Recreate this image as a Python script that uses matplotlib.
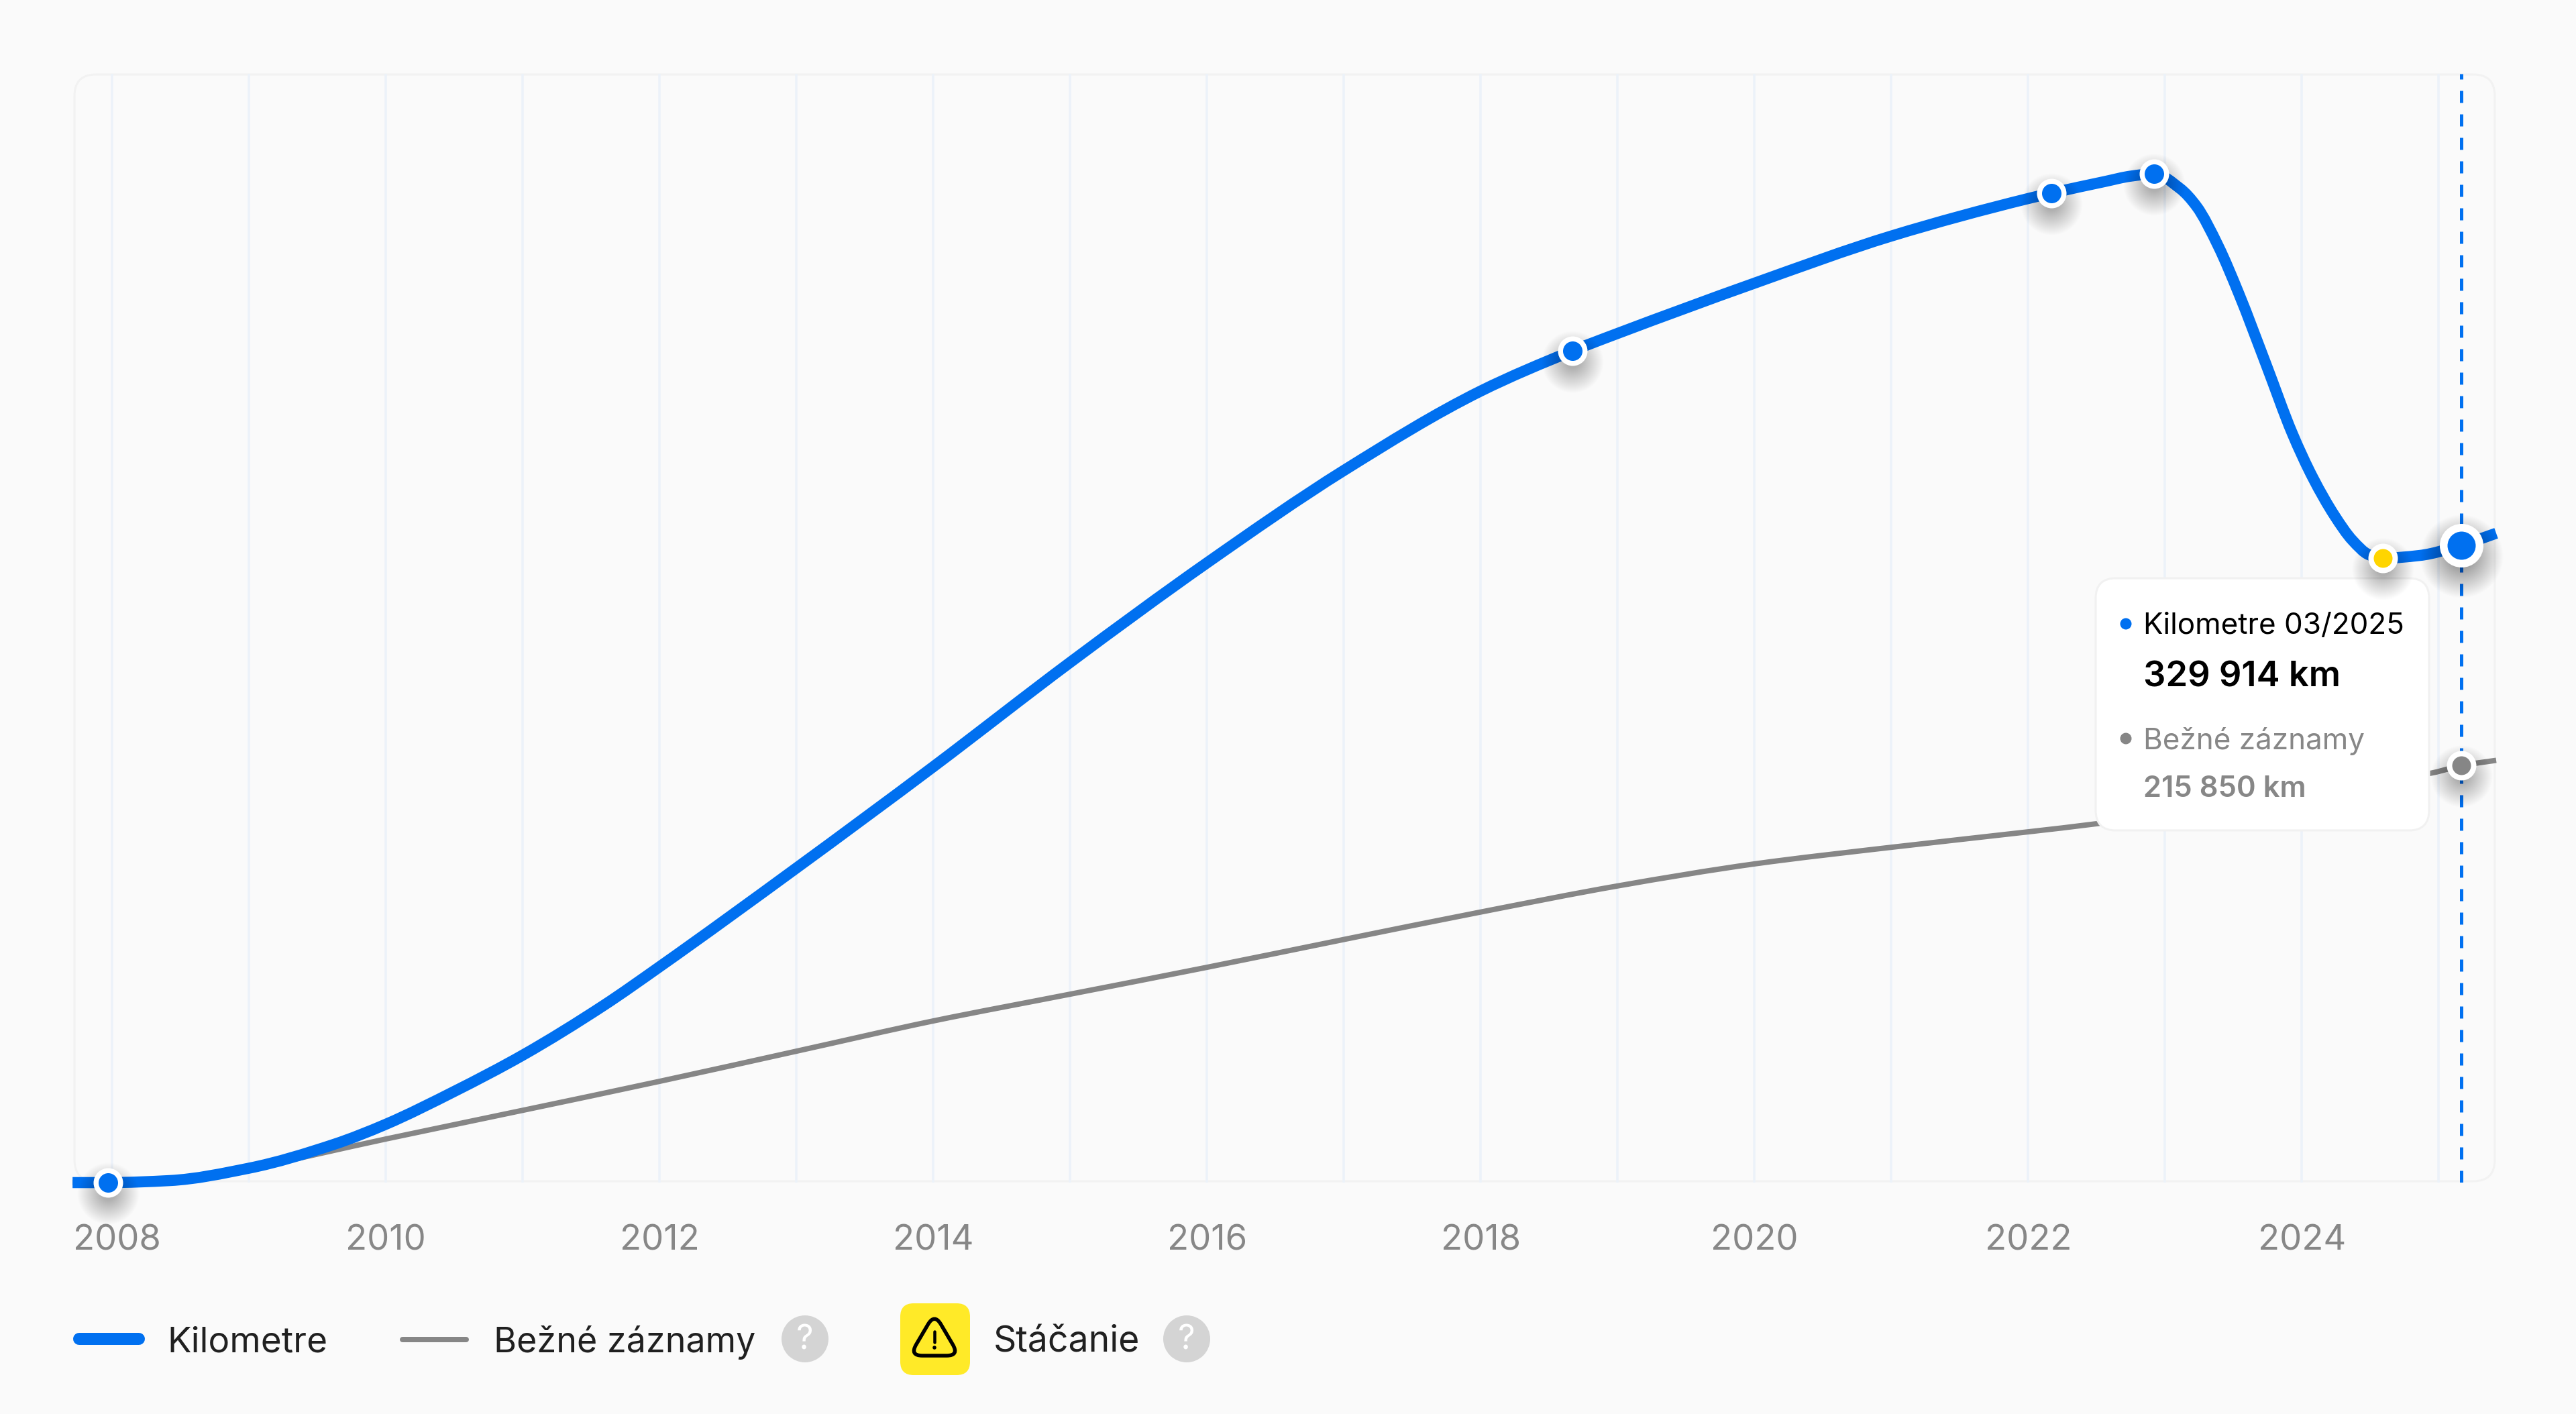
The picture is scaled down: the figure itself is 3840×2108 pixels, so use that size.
import matplotlib
matplotlib.use("Agg")
import matplotlib.pyplot as plt
from matplotlib.lines import Line2D
from matplotlib.patches import FancyBboxPatch, Circle, PathPatch
from matplotlib.path import Path
from matplotlib.transforms import Affine2D, ScaledTranslation

# ---------- data ----------
km_years = [2007.71, 2007.97, 2008.42, 2009.00, 2009.62, 2010.00, 2010.50, 2011.00, 2011.59, 2012.00,
            2013.00, 2014.00, 2015.00, 2016.00, 2017.00, 2018.00, 2018.67, 2019.00, 2020.00, 2021.00,
            2022.00, 2022.17, 2022.56, 2022.75, 2022.92, 2023.11, 2023.23, 2023.39, 2023.54, 2023.74,
            2023.93, 2024.08, 2024.24, 2024.37, 2024.49, 2024.59, 2024.86, 2025.17, 2025.42]
km_values = [0, 0, 1040, 7460, 19780, 30200, 47200, 65950, 91630, 111700,
             162800, 215200, 269200, 320700, 368500, 409600, 430400, 439400, 465400, 489800,
             509200, 512000, 518000, 520800, 522000, 514400, 505200, 484500, 459900, 423100,
             387700, 364800, 345000, 332300, 324900, 323100, 324500, 329914, 336000]

rec_years = [2007.71, 2008.00, 2008.42, 2009.00, 2010.00, 2011.00, 2012.00, 2013.00, 2014.00, 2015.00,
             2016.00, 2017.00, 2018.00, 2019.00, 2020.00, 2021.00, 2022.00, 2022.50, 2024.96, 2025.17,
             2025.42]
rec_values = [0, 0, 1040, 7460, 22560, 37400, 52400, 68000, 83650, 97500,
              111400, 125800, 140000, 153500, 164900, 173500, 181500, 185700, 212100, 215850,
              218500]

record_years = [2007.97, 2018.67, 2022.17, 2022.92]
record_km = [0, 430400, 512000, 522000]
rollback_year = [2024.59]
rollback_km = [323100]
current_year = 2025.167
current_km = 329914
current_rec = 215850

grid_years = list(range(2008, 2026))
tick_labels = [str(y) if y % 2 == 0 else "" for y in grid_years]

tooltip_lines = ["Kilometre 03/2025", "329 914 km", "Bežné záznamy", "215 850 km"]
legend_labels = ["Kilometre", "Bežné záznamy", "Stáčanie"]

# ---------- styles ----------
BG = "#FAFAFA"
BLUE = "#0070F0"
GRAY = "#868686"
TXT = "#202020"
GRID = "#ECF2F9"
BORDER = "#F2F2F2"
plt.rcParams["font.family"] = ["Inter", "DejaVu Sans"]

W, H = 3840, 2108
PX = 0.72  # points per pixel at dpi 100
fig = plt.figure(figsize=(W / 100, H / 100), dpi=100, facecolor=BG)
L, R, T, B = 110, 3720, 110, 1763
ax = fig.add_axes([L / W, (H - B) / H, (R - L) / W, (B - T) / H])
ax.set_facecolor("none")
ax.set_xlim(2007.719, 2025.415)
ax.set_ylim(0, 573756)
for s in ax.spines.values():
    s.set_visible(False)
ax.set_yticks([])

# pixel coordinates, origin at top-left
px = Affine2D().scale(1, -1).translate(0, H)

# plot frame (drawn before the axes, so the curves stay on top)
frame = FancyBboxPatch((L + 1, T + 1), R - L - 2, B - T - 3, boxstyle="round,pad=0,rounding_size=32",
                       fc="none", ec=BORDER, lw=3 * PX, transform=px, zorder=-1, clip_on=False)
fig.add_artist(frame)

# grid & ticks
ax.set_xticks(grid_years)
ax.set_xticklabels(tick_labels)
ax.tick_params(axis="x", length=0, pad=101 * PX, labelsize=52.5 * PX, labelcolor="#878787")
for lab in ax.get_xticklabels():
    lab.set_va("baseline")
first = ax.get_xticklabels()[0]
first.set_ha("left")
first.set_transform(first.get_transform() + ScaledTranslation(-58 / 100, 0, fig.dpi_scale_trans))
ax.xaxis.grid(True, color=GRID, lw=3.5 * PX, zorder=1)
ax.set_axisbelow(True)


def smooth_path(xs, ys):
    """Monotone cubic Bezier path through the given values (the chart's curve style)."""
    n = len(xs)
    sl = [(ys[i + 1] - ys[i]) / (xs[i + 1] - xs[i]) for i in range(n - 1)]
    m = [sl[0]] + [0.0] * (n - 2) + [sl[-1]]
    for i in range(1, n - 1):
        a, b = sl[i - 1], sl[i]
        if a * b > 0:
            ha, hb = xs[i] - xs[i - 1], xs[i + 1] - xs[i]
            m[i] = (3 * (ha + hb)) / ((2 * hb + ha) / a + (hb + 2 * ha) / b)
    verts = [(xs[0], ys[0])]
    codes = [Path.MOVETO]
    for i in range(n - 1):
        h = (xs[i + 1] - xs[i]) / 3
        verts += [(xs[i] + h, ys[i] + m[i] * h), (xs[i + 1] - h, ys[i + 1] - m[i + 1] * h), (xs[i + 1], ys[i + 1])]
        codes += [Path.CURVE4] * 3
    return Path(verts, codes)


# series
ax.add_patch(PathPatch(smooth_path(rec_years, rec_values), fc="none", ec=GRAY, lw=8 * PX, capstyle="butt",
                       joinstyle="round", clip_on=False, zorder=2, label="Bežné záznamy"))
ax.add_patch(PathPatch(smooth_path(km_years, km_values), fc="none", ec=BLUE, lw=16.5 * PX, capstyle="butt",
                       joinstyle="round", clip_on=False, zorder=3, label="Kilometre"))
ax.axvline(current_year, color=BLUE, lw=5 * PX, linestyle=(0, (3.6, 3.4)), dash_capstyle="butt", zorder=4)


def dot(x, y, color, outer, inner, shadow_to, zorder=6):
    off = ax.transData + ScaledTranslation(0, -16 / 100, fig.dpi_scale_trans)
    n = int(shadow_to - outer * 0.4) // 2
    for i in range(n):
        ax.plot([x], [y], "o", ms=(shadow_to - i * 2) * PX, mew=0, color="k", alpha=0.0075,
                transform=off, clip_on=False, zorder=zorder - 0.5)
    ax.plot([x], [y], "o", ms=outer * PX, mew=0, color="white", clip_on=False, zorder=zorder)
    ax.plot([x], [y], "o", ms=inner * PX, mew=0, color=color, clip_on=False, zorder=zorder + 0.1)


for x, y in zip(record_years, record_km):
    dot(x, y, BLUE, 44, 29, 92)
dot(rollback_year[0], rollback_km[0], "#FFD500", 44, 28, 92)
dot(current_year, current_rec, GRAY, 44, 28, 92)
dot(current_year, current_km, BLUE, 65, 42, 124)

# tooltip
box = FancyBboxPatch((3124, 862), 497, 376, boxstyle="round,pad=0,rounding_size=30",
                     fc="white", ec="#F1F1F1", lw=3 * PX, transform=px, zorder=5, clip_on=False)
ax.add_patch(box)
ax.add_patch(Circle((3169, 930), 8.5, fc=BLUE, ec="none", transform=px, zorder=5.1, clip_on=False))
ax.add_patch(Circle((3169, 1101), 8.5, fc=GRAY, ec="none", transform=px, zorder=5.1, clip_on=False))
tip_y = [945, 1024, 1117, 1188]
tip_size = [44, 52.5, 44, 43.5]
tip_col = ["black", "black", "#878787", "#878787"]
tip_w = ["normal", "semibold", "normal", "semibold"]
for s, yy, sz, c, wt in zip(tooltip_lines, tip_y, tip_size, tip_col, tip_w):
    ax.text(3195, yy, s, transform=px, fontsize=sz * PX, color=c, fontweight=wt, va="baseline", ha="left",
            zorder=5.2, clip_on=False)

# legend
fig.add_artist(Line2D([117.5, 206.5], [1996, 1996], color=BLUE, lw=18 * PX, solid_capstyle="round", transform=px))
fig.add_artist(Line2D([600, 695], [1996.5, 1996.5], color=GRAY, lw=8 * PX, solid_capstyle="round", transform=px))
for s, xx, sz in zip(legend_labels, [249, 735.5, 1481], [53, 52, 53.5]):
    fig.text(xx, 2016, s, transform=px, fontsize=sz * PX, color=TXT, va="baseline", ha="left")
for cx in [1200, 1769]:
    fig.add_artist(Circle((cx, 1996), 35, fc="#D4D4D4", ec="none", transform=px))
    fig.text(cx, 2012, "?", transform=px, fontsize=50 * PX, color="white", va="baseline", ha="center")
fig.add_artist(FancyBboxPatch((1342, 1943), 104, 107, boxstyle="round,pad=0,rounding_size=20",
                              fc="#FFEA28", ec="none", transform=px))


def rounded_triangle(pts, r):
    verts, codes = [], []
    n = len(pts)
    for i in range(n):
        p0, p1, p2 = pts[i - 1], pts[i], pts[(i + 1) % n]
        def toward(a, b, d):
            dx, dy = b[0] - a[0], b[1] - a[1]
            ln = (dx * dx + dy * dy) ** 0.5
            return (a[0] + dx / ln * d, a[1] + dy / ln * d)
        a = toward(p1, p0, r)
        b = toward(p1, p2, r)
        verts += [a, p1, b]
        codes += [Path.MOVETO if i == 0 else Path.LINETO, Path.CURVE3, Path.CURVE3]
    verts.append(verts[0])
    codes.append(Path.CLOSEPOLY)
    return Path(verts, codes)


tri = rounded_triangle([(1393, 1958), (1430, 2021), (1356, 2021)], 19)
fig.add_artist(PathPatch(tri, fc="none", ec="black", lw=5.5 * PX, transform=px, joinstyle="round"))
fig.add_artist(Line2D([1393, 1393], [1985, 2001], color="black", lw=4.5 * PX, solid_capstyle="round", transform=px))
fig.add_artist(Circle((1393, 2009), 2.8, fc="black", ec="none", transform=px))

fig.savefig("out.png", dpi=100, facecolor=BG)
